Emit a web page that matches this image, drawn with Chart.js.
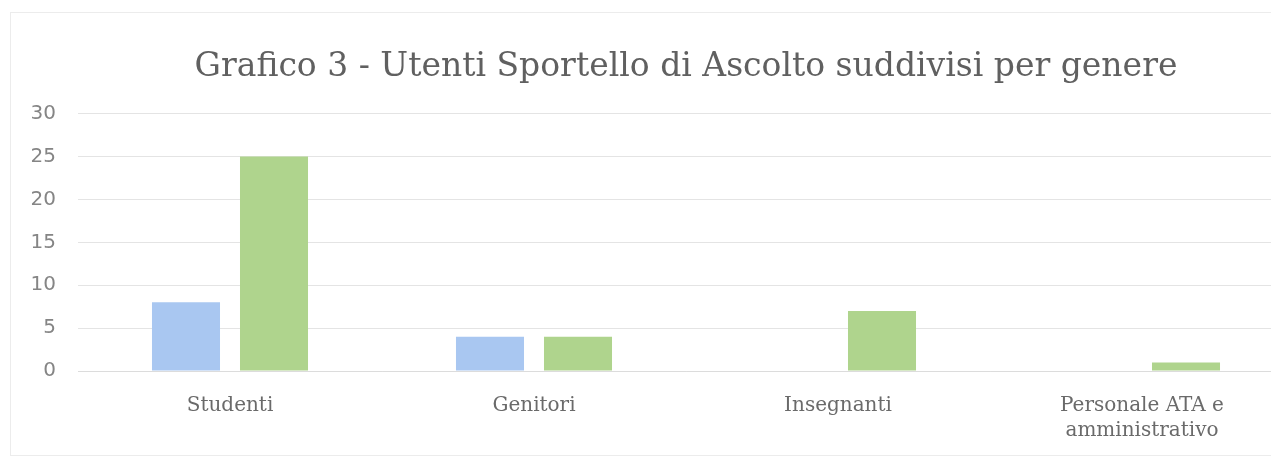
<!DOCTYPE html>
<html>
<head>
<meta charset="utf-8">
<script src="https://cdn.jsdelivr.net/npm/chart.js@4.4.1/dist/chart.umd.min.js"></script>
<style>
    html, body { margin: 0; padding: 0; background: #ffffff; overflow: hidden; }
    #frame {
        position: absolute; left: 10px; top: 12px; width: 1300px; height: 444px;
        border: 1px solid #ececec; box-sizing: border-box;
    }
    #wrap { position: absolute; left: 0; top: 0; width: 1300px; height: 460px; }
</style>
</head>
<body>
<div id="frame"></div>
<div id="wrap"><canvas id="chart-canvas"></canvas></div>
<script>
// Dati del grafico
const categories = ["Studenti", "Genitori", "Insegnanti", ["Personale ATA e", "amministrativo"]];
const seriesBlue = [8, 4, 0, 0];
const seriesGreen = [25, 4, 7, 1];
const yTicks = [0, 5, 10, 15, 20, 25, 30];

const serif = "'DejaVu Serif', 'Liberation Serif', serif";
const sans = "'DejaVu Sans', 'Noto Sans', sans-serif";

const canvas = document.getElementById("chart-canvas");

new Chart(canvas.getContext("2d"), {
    type: "bar",
    data: {
        labels: categories,
        datasets: [
            {
                label: "Maschi",
                data: seriesBlue,
                backgroundColor: "#a9c7f1",
                categoryPercentage: 0.579,
                barPercentage: 0.773
            },
            {
                label: "Femmine",
                data: seriesGreen,
                backgroundColor: "#afd48d",
                categoryPercentage: 0.579,
                barPercentage: 0.773
            }
        ]
    },
    options: {
        responsive: true,
        maintainAspectRatio: false,
        animation: false,
        layout: { padding: { left: 0, right: 6, top: 0, bottom: 0 } },
        plugins: {
            legend: { display: false },
            tooltip: { enabled: false },
            title: {
                display: true,
                fullSize: false,
                text: "Grafico 3 - Utenti Sportello di Ascolto suddivisi per genere",
                color: "#606060",
                font: { family: serif, size: 33, weight: "normal" },
                padding: { top: 48, bottom: 26 }
            }
        },
        scales: {
            x: {
                grid: { display: false },
                border: { color: "#dcdcdc" },
                ticks: {
                    color: "#6a6a6a",
                    padding: 14,
                    maxRotation: 0,
                    font: { family: serif, size: 20, lineHeight: 1.25 }
                },
                afterFit: (scale) => { scale.height = 89; }
            },
            y: {
                min: 0,
                max: 30,
                afterBuildTicks: (scale) => {
                    scale.ticks = yTicks.map(v => ({ value: v }));
                },
                grid: { color: "#e4e4e4", drawTicks: false },
                border: { display: false },
                ticks: {
                    color: "#858585",
                    padding: 22,
                    font: { family: sans, size: 20 }
                },
                afterFit: (scale) => { scale.width = 78; }
            }
        }
    }
});
</script>
</body>
</html>
